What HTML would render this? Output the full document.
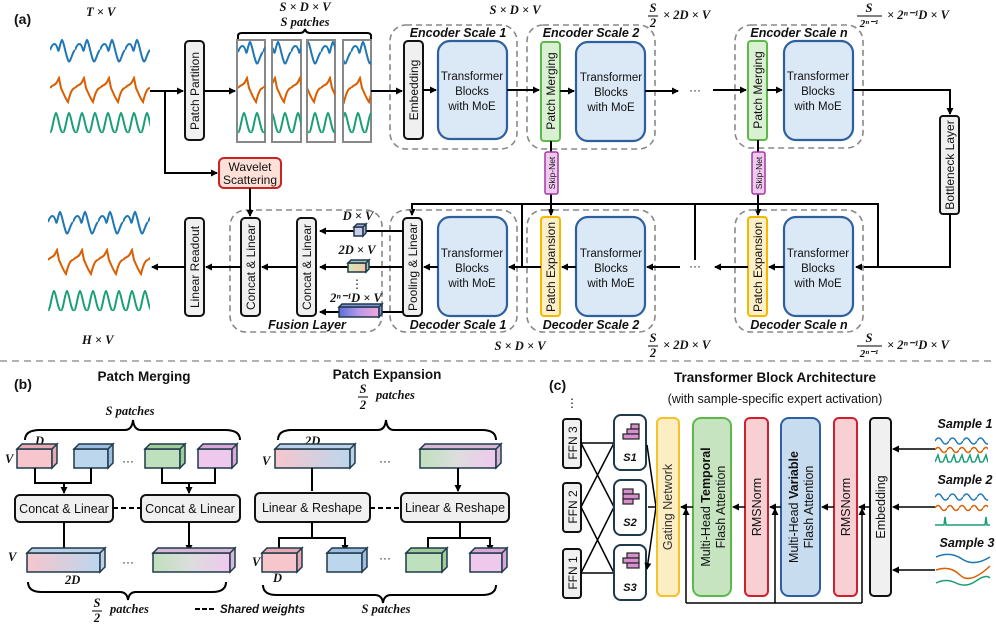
<!DOCTYPE html>
<html><head><meta charset="utf-8"><style>
html,body{margin:0;padding:0;background:#fff}
svg{display:block}
.t{font-family:"Liberation Sans",sans-serif;font-size:12px;fill:#111}
.tt{font-family:"Liberation Sans",sans-serif;font-size:11.5px;fill:#111}
.m{font-family:"Liberation Serif",serif;font-weight:bold;font-style:italic;font-size:12.5px;fill:#111}
.ti{font-family:"Liberation Sans",sans-serif;font-weight:bold;font-style:italic;font-size:12.5px;fill:#111}
.b{font-family:"Liberation Sans",sans-serif;font-weight:bold;font-size:14px;fill:#111}
.ln{stroke:#000;stroke-width:2;fill:none}
.dash{stroke:#888;stroke-width:1.6;fill:none;stroke-dasharray:6 4}
.gray{fill:#f0f0f0;stroke:#111;stroke-width:2}
.tb{fill:#dbe8f6;stroke:#2e5f9e;stroke-width:2.2}
.pm{fill:#d9f0d3;stroke:#5cb848;stroke-width:2}
.pe{fill:#fdf0c8;stroke:#f5b800;stroke-width:2}
.sk{fill:#f0c8f0;stroke:#a03aa0;stroke-width:1.5}
.cb{stroke:#1f3a4a;stroke-width:1.5}
</style></head><body>
<svg width="996" height="626" viewBox="0 0 996 626" xmlns="http://www.w3.org/2000/svg">
<defs>
<marker id="a" markerWidth="8" markerHeight="8" refX="6" refY="4" orient="auto" markerUnits="userSpaceOnUse"><path d="M0,0.5 L7,4 L0,7.5z" fill="#000"/></marker>
<pattern id="wb" width="25" height="34" patternUnits="userSpaceOnUse"><path d="M0,12 C3,4 6,4 8,12 C9,16 10,4 12,2 C14,4 15,14 18,22 C20,28 22,14 25,12" stroke="#1f77b4" stroke-width="2" fill="none"/></pattern>
<pattern id="wo" width="25" height="30" patternUnits="userSpaceOnUse"><path d="M0,12 C3,8 5,10 7,6 L9,2 L11,12 C13,16 15,22 18,26 C20,18 22,12 25,12" stroke="#d95f02" stroke-width="2" fill="none"/></pattern>
<pattern id="wg" width="13" height="28" patternUnits="userSpaceOnUse"><path d="M0,22 C2,24 4,4 6,3 C8,4 10,24 13,22" stroke="#1a9e77" stroke-width="2" fill="none"/></pattern>
<pattern id="wbs" width="14" height="14" patternUnits="userSpaceOnUse"><path d="M0,7 Q3.5,1 7,7 T14,7" stroke="#1f77b4" stroke-width="1.5" fill="none"/></pattern>
<pattern id="wos" width="12" height="14" patternUnits="userSpaceOnUse"><path d="M0,7 Q3,2 6,7 T12,7" stroke="#d95f02" stroke-width="1.5" fill="none"/></pattern>
<pattern id="wgs" width="8" height="14" patternUnits="userSpaceOnUse"><path d="M0,10 L3,3 L5,10 L8,10" stroke="#1a9e77" stroke-width="1.5" fill="none"/></pattern>
<linearGradient id="g1"><stop offset="0" stop-color="#f6c6cc"/><stop offset="1" stop-color="#bcd6ee"/></linearGradient>
<linearGradient id="g2"><stop offset="0" stop-color="#bfe0bd"/><stop offset="0.5" stop-color="#ddd"/><stop offset="1" stop-color="#efc8ee"/></linearGradient>
<linearGradient id="g3"><stop offset="0" stop-color="#d5e9b8"/><stop offset="1" stop-color="#f6c6a6"/></linearGradient>
<linearGradient id="g4"><stop offset="0" stop-color="#5a6fd8"/><stop offset="0.5" stop-color="#b99ae8"/><stop offset="1" stop-color="#f4a6d8"/></linearGradient>
</defs>

<!-- (a) -->
<text x="14" y="24" class="b">(a)</text>
<text x="86" y="16" class="m">T × V</text>
<g transform="translate(50,38)"><rect width="100" height="34" fill="url(#wb)"/></g>
<g transform="translate(50,76)"><rect width="100" height="30" fill="url(#wo)"/></g>
<g transform="translate(50,110)"><rect width="100" height="28" fill="url(#wg)"/></g>

<rect x="185" y="41" width="19" height="99" rx="4" class="gray"/>
<text class="t" transform="translate(199,91) rotate(-90)" text-anchor="middle">Patch Partition</text>
<path d="M150,91 H183" class="ln" marker-end="url(#a)"/>
<path d="M165,91 V173 H217" class="ln" marker-end="url(#a)"/>
<path d="M204,91 H235" class="ln" marker-end="url(#a)"/>

<g stroke="#888" stroke-width="2" fill="none">
<rect x="237" y="40" width="28" height="102"/><rect x="272" y="40" width="29" height="102"/>
<rect x="307" y="40" width="28" height="102"/><rect x="343" y="40" width="28" height="102"/>
</g>
<g transform="translate(238,40)"><rect width="27" height="34" fill="url(#wb)"/></g>
<g transform="translate(266,40)"><rect x="7" width="28" height="34" fill="url(#wb)"/></g>
<g transform="translate(296,40)"><rect x="12" width="27" height="34" fill="url(#wb)"/></g>
<g transform="translate(326,40)"><rect x="18" width="27" height="34" fill="url(#wb)"/></g>
<g transform="translate(238,76)"><rect width="27" height="30" fill="url(#wo)"/></g>
<g transform="translate(266,76)"><rect x="7" width="28" height="30" fill="url(#wo)"/></g>
<g transform="translate(296,76)"><rect x="12" width="27" height="30" fill="url(#wo)"/></g>
<g transform="translate(326,76)"><rect x="18" width="27" height="30" fill="url(#wo)"/></g>
<g transform="translate(238,110)"><rect width="27" height="28" fill="url(#wg)"/></g>
<g transform="translate(266,110)"><rect x="7" width="28" height="28" fill="url(#wg)"/></g>
<g transform="translate(296,110)"><rect x="12" width="27" height="28" fill="url(#wg)"/></g>
<g transform="translate(326,110)"><rect x="18" width="27" height="28" fill="url(#wg)"/></g>
<path d="M238,39 V36 Q238,33 242,33 H300 Q304,33 305,29 Q306,33 310,33 H367 Q371,33 371,36 V39" class="ln" stroke-width="1.8"/>
<text x="305" y="11" class="m" text-anchor="middle">S × D × V</text>
<text x="305" y="26" class="m" text-anchor="middle">S patches</text>
<path d="M371,91 H402" class="ln" marker-end="url(#a)"/>

<rect x="390" y="25" width="127" height="124" rx="16" class="dash"/>
<rect x="527" y="25" width="128" height="124" rx="16" class="dash"/>
<rect x="735" y="25" width="128" height="123" rx="16" class="dash"/>
<text x="458" y="37" class="ti" text-anchor="middle">Encoder Scale 1</text>
<text x="591" y="37" class="ti" text-anchor="middle">Encoder Scale 2</text>
<text x="799" y="37" class="ti" text-anchor="middle">Encoder Scale n</text>
<text x="515" y="14" class="m" text-anchor="middle">S × D × V</text>
<text x="653" y="12" class="m" text-anchor="middle">S</text><path d="M648,16 H658" stroke="#000"/><text x="653" y="27" class="m" text-anchor="middle">2</text>
<text x="663" y="19" class="m">× 2D × V</text>
<text x="869" y="12" class="m" text-anchor="middle">S</text><path d="M857,16 H882" stroke="#000"/><text x="869" y="27" class="m" text-anchor="middle" style="font-size:11px">2ⁿ⁻¹</text>
<text x="887" y="19" class="m">× 2ⁿ⁻¹D × V</text>

<rect x="404" y="41" width="19" height="98" rx="4" class="gray"/>
<text class="t" transform="translate(418,90) rotate(-90)" text-anchor="middle">Embedding</text>
<path d="M423,90 H436" class="ln" marker-end="url(#a)"/>
<rect x="438" y="41" width="69" height="98" rx="12" class="tb"/>
<text class="tt" x="472" y="80" text-anchor="middle">Transformer</text><text class="tt" x="472" y="95" text-anchor="middle">Blocks</text><text class="tt" x="472" y="110" text-anchor="middle">with MoE</text>
<path d="M507,90 H539" class="ln" marker-end="url(#a)"/>

<rect x="541" y="42" width="19" height="99" rx="3" class="pm"/>
<text class="t" transform="translate(555,91) rotate(-90)" text-anchor="middle">Patch Merging</text>
<path d="M560,91 H574" class="ln" marker-end="url(#a)"/>
<rect x="576" y="42" width="69" height="99" rx="12" class="tb"/>
<text class="tt" x="611" y="81" text-anchor="middle">Transformer</text><text class="tt" x="611" y="96" text-anchor="middle">Blocks</text><text class="tt" x="611" y="111" text-anchor="middle">with MoE</text>
<path d="M645,91 H678" class="ln" marker-end="url(#a)"/>
<text x="695" y="94" class="t" text-anchor="middle">···</text>
<path d="M713,90 H746" class="ln" marker-end="url(#a)"/>

<rect x="748" y="41" width="19" height="99" rx="3" class="pm"/>
<text class="t" transform="translate(762,90) rotate(-90)" text-anchor="middle">Patch Merging</text>
<path d="M767,90 H782" class="ln" marker-end="url(#a)"/>
<rect x="784" y="41" width="69" height="99" rx="12" class="tb"/>
<text class="tt" x="818" y="80" text-anchor="middle">Transformer</text><text class="tt" x="818" y="95" text-anchor="middle">Blocks</text><text class="tt" x="818" y="110" text-anchor="middle">with MoE</text>
<path d="M853,90 H950 V114" class="ln" marker-end="url(#a)"/>
<rect x="940" y="116" width="19" height="98" rx="3" class="gray"/>
<text class="t" transform="translate(954,165) rotate(-90)" text-anchor="middle">Bottleneck Layer</text>
<path d="M950,214 V267 H856" class="ln" marker-end="url(#a)"/>

<path d="M551,141 V152 M551,194 V215" class="ln" marker-end="url(#a)"/>
<rect x="545" y="152" width="13" height="42" rx="2" class="sk"/>
<text class="t" style="font-size:8.5px" transform="translate(555,173) rotate(-90)" text-anchor="middle">Skip-Net</text>
<path d="M758,140 V152 M758,194 V215" class="ln" marker-end="url(#a)"/>
<rect x="752" y="152" width="13" height="42" rx="2" class="sk"/>
<text class="t" style="font-size:8.5px" transform="translate(762,173) rotate(-90)" text-anchor="middle">Skip-Net</text>
<path d="M878,267 V204 H412 V215" class="ln" marker-end="url(#a)"/>
<path d="M522,204 V267 M695,204 V260" class="ln"/>

<rect x="390" y="210" width="127" height="122" rx="16" class="dash"/>
<rect x="527" y="210" width="128" height="122" rx="16" class="dash"/>
<rect x="735" y="210" width="128" height="122" rx="16" class="dash"/>
<rect x="230" y="210" width="152" height="122" rx="16" class="dash"/>
<text x="458" y="329" class="ti" text-anchor="middle">Decoder Scale 1</text>
<text x="591" y="329" class="ti" text-anchor="middle">Decoder Scale 2</text>
<text x="799" y="329" class="ti" text-anchor="middle">Decoder Scale n</text>
<text x="307" y="329" class="ti" text-anchor="middle">Fusion Layer</text>
<text x="520" y="350" class="m" text-anchor="middle">S × D × V</text>
<text x="653" y="342" class="m" text-anchor="middle">S</text><path d="M648,346 H658" stroke="#000"/><text x="653" y="357" class="m" text-anchor="middle">2</text>
<text x="663" y="349" class="m">× 2D × V</text>
<text x="869" y="342" class="m" text-anchor="middle">S</text><path d="M857,346 H882" stroke="#000"/><text x="869" y="357" class="m" text-anchor="middle" style="font-size:11px">2ⁿ⁻¹</text>
<text x="887" y="349" class="m">× 2ⁿ⁻¹D × V</text>

<rect x="748" y="217" width="19" height="99" rx="3" class="pe"/>
<text class="t" transform="translate(762,267) rotate(-90)" text-anchor="middle">Patch Expansion</text>
<rect x="784" y="217" width="69" height="99" rx="12" class="tb"/>
<text class="tt" x="818" y="257" text-anchor="middle">Transformer</text><text class="tt" x="818" y="272" text-anchor="middle">Blocks</text><text class="tt" x="818" y="287" text-anchor="middle">with MoE</text>
<path d="M784,267 H769" class="ln" marker-end="url(#a)"/>
<path d="M748,267 H715" class="ln" marker-end="url(#a)"/>
<text x="695" y="270" class="t" text-anchor="middle">···</text>
<path d="M680,267 H647" class="ln" marker-end="url(#a)"/>
<rect x="541" y="217" width="19" height="99" rx="3" class="pe"/>
<text class="t" transform="translate(555,267) rotate(-90)" text-anchor="middle">Patch Expansion</text>
<rect x="576" y="217" width="69" height="99" rx="12" class="tb"/>
<text class="tt" x="611" y="257" text-anchor="middle">Transformer</text><text class="tt" x="611" y="272" text-anchor="middle">Blocks</text><text class="tt" x="611" y="287" text-anchor="middle">with MoE</text>
<path d="M576,267 H562" class="ln" marker-end="url(#a)"/>
<path d="M541,267 H509" class="ln" marker-end="url(#a)"/>
<rect x="438" y="217" width="69" height="99" rx="12" class="tb"/>
<text class="tt" x="472" y="257" text-anchor="middle">Transformer</text><text class="tt" x="472" y="272" text-anchor="middle">Blocks</text><text class="tt" x="472" y="287" text-anchor="middle">with MoE</text>
<path d="M438,267 H424" class="ln" marker-end="url(#a)"/>
<rect x="403" y="218" width="19" height="98" rx="4" class="gray"/>
<text class="t" transform="translate(417,267) rotate(-90)" text-anchor="middle">Pooling &amp; Linear</text>

<path d="M403,231 H320" class="ln" marker-end="url(#a)"/>
<path d="M403,267 H320" class="ln" marker-end="url(#a)"/>
<path d="M403,312 H320" class="ln" marker-end="url(#a)"/>
<g class="cb"><rect x="354" y="227" width="9" height="9" fill="#c9cbe8"/><path d="M354,227 l3,-3 h9 l-3,3z M363,227 l3,-3 v9 l-3,3z" fill="#a9acd8"/></g>
<g class="cb"><rect x="348" y="263" width="18" height="9" fill="url(#g3)"/><path d="M348,263 l3,-3 h18 l-3,3z M366,263 l3,-3 v9 l-3,3z" fill="#9cc4c0"/></g>
<g class="cb"><rect x="339" y="307" width="40" height="10" fill="url(#g4)"/><path d="M339,307 l3,-3 h40 l-3,3z M379,307 l3,-3 v10 l-3,3z" fill="#7f8fd8"/></g>
<text x="358" y="220" class="m" text-anchor="middle">D × V</text>
<text x="357" y="254" class="m" text-anchor="middle">2D × V</text>
<text x="357" y="288" class="t" text-anchor="middle">⋮</text>
<text x="356" y="302" class="m" text-anchor="middle">2ⁿ⁻¹D × V</text>
<rect x="297" y="218" width="19" height="98" rx="4" class="gray"/>
<text class="t" transform="translate(311,267) rotate(-90)" text-anchor="middle">Concat &amp; Linear</text>
<path d="M297,267 H262" class="ln" marker-end="url(#a)"/>
<rect x="241" y="218" width="19" height="98" rx="4" class="gray"/>
<text class="t" transform="translate(255,267) rotate(-90)" text-anchor="middle">Concat &amp; Linear</text>
<path d="M241,267 H206" class="ln" marker-end="url(#a)"/>
<rect x="185" y="218" width="19" height="98" rx="4" class="gray"/>
<text class="t" transform="translate(199,267) rotate(-90)" text-anchor="middle">Linear Readout</text>
<path d="M185,267 H152" class="ln" marker-end="url(#a)"/>
<rect x="219" y="158" width="62" height="30" rx="5" fill="#fde0d8" stroke="#cc2222" stroke-width="2"/>
<text class="t" x="250" y="171" text-anchor="middle">Wavelet</text><text class="t" x="250" y="184" text-anchor="middle">Scattering</text>
<path d="M250,188 V216" class="ln" marker-end="url(#a)"/>
<g transform="translate(48,210)"><rect width="102" height="34" fill="url(#wb)"/></g>
<g transform="translate(48,248)"><rect width="102" height="30" fill="url(#wo)"/></g>
<g transform="translate(48,288)"><rect width="102" height="28" fill="url(#wg)"/></g>
<text x="82" y="344" class="m">H × V</text>

<path d="M0,361 H996" stroke="#999" stroke-width="1.6" stroke-dasharray="7 5"/>

<!-- (b) -->
<text x="14" y="389" class="b">(b)</text>
<text x="144" y="381" class="b" style="font-size:13.5px" text-anchor="middle">Patch Merging</text>
<text x="387" y="379" class="b" style="font-size:13.5px" text-anchor="middle">Patch Expansion</text>
<text x="130" y="415" class="m" text-anchor="middle">S patches</text>
<path d="M25,440 Q25,430 40,430 H125 Q132,430 133,420 Q134,430 141,430 H225 Q240,430 240,440" class="ln" stroke-width="1.8"/>
<text x="35" y="445" class="m">D</text>
<text x="5" y="463" class="m">V</text>
<g class="cb">
<rect x="17" y="449" width="35" height="19" fill="#f6c6cc"/><path d="M17,449 l5,-5 h35 l-5,5z M52,449 l5,-5 v19 l-5,5z" fill="#e8a8b4"/>
<rect x="74" y="449" width="34" height="19" fill="#bcd6ee"/><path d="M74,449 l5,-5 h34 l-5,5z M108,449 l5,-5 v19 l-5,5z" fill="#9cbce0"/>
<rect x="145" y="449" width="35" height="19" fill="#bfe0bd"/><path d="M145,449 l5,-5 h35 l-5,5z M180,449 l5,-5 v19 l-5,5z" fill="#a0cc9c"/>
<rect x="198" y="449" width="34" height="19" fill="#efc8ee"/><path d="M198,449 l5,-5 h34 l-5,5z M232,449 l5,-5 v19 l-5,5z" fill="#d8a8d8"/>
</g>
<text x="128" y="465" class="t" text-anchor="middle">···</text>
<path d="M35,468 V483 H91 V468 M64,483 V493" class="ln" stroke-width="1.6" marker-end="url(#a)"/>
<path d="M162,468 V483 H215 V468 M189,483 V493" class="ln" stroke-width="1.6" marker-end="url(#a)"/>
<rect x="15" y="495" width="98" height="27" rx="5" class="gray"/>
<text x="64" y="513" class="t" style="font-size:12.5px" text-anchor="middle">Concat &amp; Linear</text>
<rect x="141" y="495" width="99" height="27" rx="5" class="gray"/>
<text x="190" y="513" class="t" style="font-size:12.5px" text-anchor="middle">Concat &amp; Linear</text>
<path d="M113,508 H141" stroke="#000" stroke-width="2" stroke-dasharray="5 3"/>
<path d="M64,522 V551 M189,522 V551" class="ln" stroke-width="1.6" marker-end="url(#a)"/>
<g class="cb">
<rect x="27" y="553" width="73" height="19" fill="url(#g1)"/><path d="M27,553 l5,-5 h73 l-5,5z M100,553 l5,-5 v19 l-5,5z" fill="#bcd0e8"/>
<rect x="153" y="553" width="77" height="19" fill="url(#g2)"/><path d="M153,553 l5,-5 h77 l-5,5z M230,553 l5,-5 v19 l-5,5z" fill="#d8b8d8"/>
</g>
<text x="8" y="561" class="m">V</text>
<text x="128" y="566" class="t" text-anchor="middle">···</text>
<text x="65" y="584" class="m">2D</text>
<path d="M28,582 Q28,592 42,592 H120 Q127,592 128,600 Q129,592 136,592 H212 Q226,592 226,582" class="ln" stroke-width="1.8"/>
<text x="97" y="607" class="m" text-anchor="middle">S</text><path d="M92,611 H102" stroke="#000"/><text x="97" y="622" class="m" text-anchor="middle">2</text>
<text x="110" y="613" class="m">patches</text>
<path d="M195,609 H214" stroke="#000" stroke-width="2" stroke-dasharray="5 2"/>
<text x="220" y="613" class="ti" style="font-size:11.5px">Shared weights</text>

<text x="363" y="393" class="m" text-anchor="middle">S</text><path d="M358,397 H368" stroke="#000"/><text x="363" y="409" class="m" text-anchor="middle">2</text>
<text x="376" y="399" class="m">patches</text>
<path d="M278,440 Q278,430 292,430 H378 Q385,430 386,420 Q387,430 394,430 H482 Q496,430 496,440" class="ln" stroke-width="1.8"/>
<text x="305" y="445" class="m">2D</text>
<text x="262" y="465" class="m">V</text>
<g class="cb">
<rect x="275" y="449" width="75" height="19" fill="url(#g1)"/><path d="M275,449 l5,-5 h75 l-5,5z M350,449 l5,-5 v19 l-5,5z" fill="#bcd0e8"/>
<rect x="420" y="449" width="76" height="19" fill="url(#g2)"/><path d="M420,449 l5,-5 h76 l-5,5z M496,449 l5,-5 v19 l-5,5z" fill="#d8b8d8"/>
</g>
<text x="385" y="465" class="t" text-anchor="middle">···</text>
<path d="M312,468 V491 M458,468 V491" class="ln" stroke-width="1.6" marker-end="url(#a)"/>
<rect x="255" y="493" width="115" height="29" rx="5" class="gray"/>
<text x="312" y="512" class="t" style="font-size:12.5px" text-anchor="middle">Linear &amp; Reshape</text>
<rect x="401" y="493" width="108" height="29" rx="5" class="gray"/>
<text x="455" y="512" class="t" style="font-size:12.5px" text-anchor="middle">Linear &amp; Reshape</text>
<path d="M370,508 H401" stroke="#000" stroke-width="2" stroke-dasharray="5 3"/>
<path d="M312,522 V538 H279 V551 M312,538 H345 V551" class="ln" stroke-width="1.6" marker-end="url(#a)"/>
<path d="M460,522 V538 H428 V551 M460,538 H490 V551" class="ln" stroke-width="1.6" marker-end="url(#a)"/>
<g class="cb">
<rect x="262" y="553" width="35" height="19" fill="#f6c6cc"/><path d="M262,553 l5,-5 h35 l-5,5z M297,553 l5,-5 v19 l-5,5z" fill="#e8a8b4"/>
<rect x="327" y="553" width="35" height="19" fill="#bcd6ee"/><path d="M327,553 l5,-5 h35 l-5,5z M362,553 l5,-5 v19 l-5,5z" fill="#9cbce0"/>
<rect x="406" y="553" width="36" height="19" fill="#bfe0bd"/><path d="M406,553 l5,-5 h36 l-5,5z M442,553 l5,-5 v19 l-5,5z" fill="#a0cc9c"/>
<rect x="470" y="553" width="32" height="19" fill="#efc8ee"/><path d="M470,553 l5,-5 h32 l-5,5z M502,553 l5,-5 v19 l-5,5z" fill="#d8a8d8"/>
</g>
<text x="252" y="566" class="m">V</text>
<text x="385" y="562" class="t" text-anchor="middle">···</text>
<text x="273" y="582" class="m">D</text>
<path d="M263,585 Q263,595 277,595 H375 Q382,595 383,603 Q384,595 391,595 H482 Q496,595 496,585" class="ln" stroke-width="1.8"/>
<text x="386" y="613" class="m" text-anchor="middle">S patches</text>

<!-- (c) -->
<text x="549" y="390" class="b">(c)</text>
<text x="775" y="382" class="b" style="font-size:13.5px" text-anchor="middle">Transformer Block Architecture</text>
<text x="775" y="403" class="t" style="font-size:12.5px" text-anchor="middle">(with sample-specific expert activation)</text>
<text x="572" y="407" class="t" text-anchor="middle">⋮</text>
<rect x="563" y="419" width="18" height="49" rx="3" class="gray"/>
<text class="t" transform="translate(577,443) rotate(-90)" text-anchor="middle">FFN 3</text>
<rect x="563" y="483" width="18" height="49" rx="3" class="gray"/>
<text class="t" transform="translate(577,507) rotate(-90)" text-anchor="middle">FFN 2</text>
<rect x="563" y="549" width="18" height="49" rx="3" class="gray"/>
<text class="t" transform="translate(577,573) rotate(-90)" text-anchor="middle">FFN 1</text>
<path d="M581,443 H614 M581,443 L614,507 M581,507 L614,443 M581,507 L614,573 M581,573 H614 M581,573 L614,507" stroke="#000" stroke-width="1.5" fill="none"/>
<g fill="#fff" stroke="#1f3a4a" stroke-width="2">
<rect x="614" y="415" width="32" height="55" rx="7"/>
<rect x="614" y="480" width="32" height="55" rx="7"/>
<rect x="614" y="545" width="32" height="55" rx="7"/>
</g>
<g fill="#d88fd0" stroke="#222" stroke-width="1.2">
<rect x="631" y="424" width="8" height="5"/><rect x="627" y="429" width="12" height="5"/><rect x="623" y="434" width="16" height="5"/>
<rect x="623" y="489" width="10" height="5"/><rect x="623" y="494" width="16" height="5"/><rect x="623" y="499" width="10" height="5"/>
<rect x="627" y="553" width="12" height="5"/><rect x="623" y="558" width="16" height="5"/><rect x="627" y="563" width="12" height="5"/>
</g>
<text x="630" y="461" class="ti" style="font-size:11px" text-anchor="middle">S1</text>
<text x="630" y="526" class="ti" style="font-size:11px" text-anchor="middle">S2</text>
<text x="630" y="591" class="ti" style="font-size:11px" text-anchor="middle">S3</text>
<path d="M656,507 L647,445 M656,507 H648 M656,507 L647,569" stroke="#000" stroke-width="1.5" fill="none" marker-end="url(#a)"/>
<rect x="657" y="418" width="22" height="178" rx="5" fill="#fdedc2" stroke="#f5c22a" stroke-width="2"/>
<text class="t" style="font-size:12.5px;fill:#333" transform="translate(672,507) rotate(-90)" text-anchor="middle">Gating Network</text>
<rect x="693" y="418" width="38" height="178" rx="8" fill="#c6e4c0" stroke="#5cb848" stroke-width="2"/>
<text class="t" style="font-size:12.5px" transform="translate(710,507) rotate(-90)" text-anchor="middle">Multi-Head <tspan font-weight="bold">Temporal</tspan></text>
<text class="t" style="font-size:12.5px" transform="translate(725,507) rotate(-90)" text-anchor="middle">Flash Attention</text>
<rect x="745" y="418" width="23" height="178" rx="5" fill="#f8d0d4" stroke="#d02030" stroke-width="2"/>
<text class="t" style="font-size:12.5px" transform="translate(761,507) rotate(-90)" text-anchor="middle">RMSNorm</text>
<rect x="781" y="418" width="39" height="178" rx="8" fill="#c8dcf0" stroke="#2e5f9e" stroke-width="2"/>
<text class="t" style="font-size:12.5px" transform="translate(798,507) rotate(-90)" text-anchor="middle">Multi-Head <tspan font-weight="bold">Variable</tspan></text>
<text class="t" style="font-size:12.5px" transform="translate(813,507) rotate(-90)" text-anchor="middle">Flash Attention</text>
<rect x="834" y="418" width="23" height="178" rx="5" fill="#f8d0d4" stroke="#d02030" stroke-width="2"/>
<text class="t" style="font-size:12.5px" transform="translate(850,507) rotate(-90)" text-anchor="middle">RMSNorm</text>
<rect x="870" y="418" width="21" height="178" rx="4" class="gray"/>
<text class="t" style="font-size:12.5px" transform="translate(885,507) rotate(-90)" text-anchor="middle">Embedding</text>
<g stroke="#000" stroke-width="1.5" fill="none" marker-end="url(#a)">
<path d="M870,507 H859"/><path d="M834,507 H822"/><path d="M781,507 H770"/><path d="M745,507 H733"/><path d="M693,507 H681"/>
<path d="M935,449 H893"/><path d="M935,507 H893"/><path d="M935,570 H893"/>
<path d="M862,603 V509"/><path d="M775,603 V509"/><path d="M686,603 V509"/>
</g>
<path d="M686,603 H862" stroke="#000" stroke-width="1.5"/>
<text x="965" y="428" class="ti" text-anchor="middle">Sample 1</text>
<text x="965" y="484" class="ti" text-anchor="middle">Sample 2</text>
<text x="967" y="547" class="ti" text-anchor="middle">Sample 3</text>
<g transform="translate(935,434)"><rect width="53" height="14" fill="url(#wbs)"/></g>
<g transform="translate(935,443)"><rect width="53" height="14" fill="url(#wos)"/></g>
<g transform="translate(935,452)"><rect width="53" height="14" fill="url(#wgs)"/></g>
<g transform="translate(935,490)"><rect width="53" height="14" fill="url(#wbs)"/></g>
<g transform="translate(935,501)"><rect width="53" height="14" fill="url(#wos)"/></g>
<path d="M935,525 H944 L945,517 L946,525 H985 L986,517 L987,525 H990" stroke="#1a9e77" stroke-width="1.5" fill="none"/>
<path d="M936,557 Q950,551 962,559 T990,557" stroke="#1f77b4" stroke-width="1.5" fill="none"/>
<path d="M936,570 Q950,565 960,575 T990,566" stroke="#d95f02" stroke-width="1.5" fill="none"/>
<path d="M936,583 Q946,578 956,583 T976,581 T990,578" stroke="#1a9e77" stroke-width="1.5" fill="none"/>
</svg>
</body></html>
